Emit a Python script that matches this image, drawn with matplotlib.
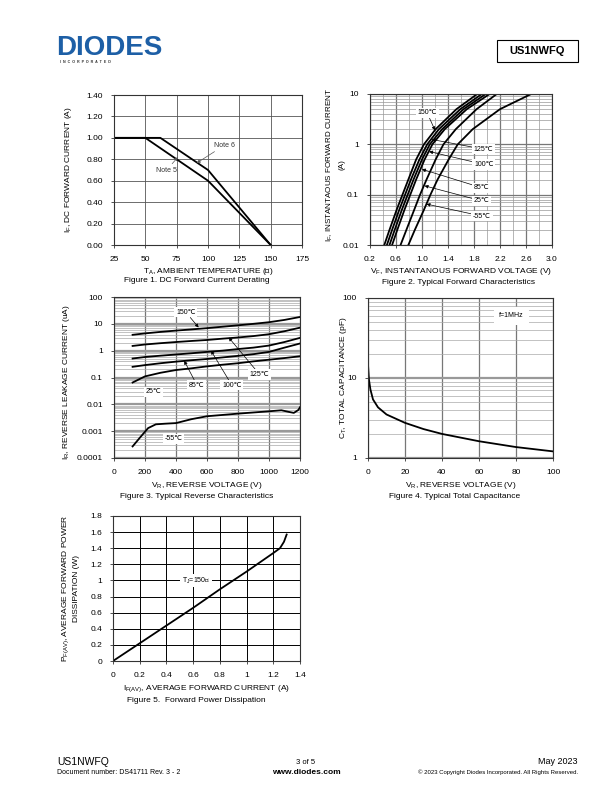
import matplotlib
matplotlib.use("Agg")
import matplotlib.pyplot as plt
from matplotlib.patches import Rectangle

plt.rcParams['font.family'] = ['Liberation Sans', 'DejaVu Sans']
plt.rcParams['mathtext.default'] = 'regular'
plt.rcParams['font.size'] = 6

# ---- data: Figure 1, DC forward current derating
temp_note5 = [25, 50, 100, 150]
if_note5 = [1.0, 1.0, 0.6, 0.0]
temp_note6 = [25, 62, 100, 150]
if_note6 = [1.0, 1.0, 0.7, 0.0]

# ---- data: Figure 2, forward characteristics (V at given I)
fwd_current = [0.01, 0.02, 0.05, 0.1, 0.2, 0.5, 1, 2, 5, 10]
vf_150 = [0.42, 0.50, 0.61, 0.70, 0.79, 0.91, 1.03, 1.21, 1.53, 1.85]
vf_125 = [0.46, 0.54, 0.65, 0.74, 0.83, 0.96, 1.08, 1.26, 1.59, 1.92]
vf_100 = [0.50, 0.58, 0.69, 0.78, 0.87, 1.00, 1.12, 1.31, 1.64, 1.98]
vf_85 = [0.54, 0.62, 0.73, 0.82, 0.91, 1.04, 1.16, 1.35, 1.69, 2.04]
vf_25 = [0.67, 0.76, 0.88, 0.97, 1.07, 1.21, 1.33, 1.52, 1.84, 2.15]
vf_m55 = [0.79, 0.89, 1.03, 1.13, 1.24, 1.41, 1.55, 1.78, 2.20, 2.68]

# ---- data: Figure 3, reverse leakage (uA)
vr = [120, 200, 300, 400, 500, 600, 700, 800, 900, 1000, 1100, 1200]
ir_150 = [3.9, 4.4, 5.0, 5.6, 6.2, 6.9, 7.8, 8.8, 10.0, 11.5, 14.0, 18.0]
ir_125 = [1.5, 1.7, 1.9, 2.1, 2.3, 2.5, 2.8, 3.1, 3.5, 4.1, 5.3, 7.2]
ir_100 = [0.51, 0.58, 0.65, 0.72, 0.80, 0.90, 1.0, 1.15, 1.3, 1.55, 2.1, 3.0]
ir_85 = [0.25, 0.29, 0.34, 0.39, 0.44, 0.49, 0.56, 0.64, 0.74, 0.90, 1.3, 1.85]
ir_25 = [0.065, 0.11, 0.15, 0.19, 0.22, 0.26, 0.30, 0.34, 0.40, 0.46, 0.53, 0.62]
vr_m55 = [120, 170, 220, 270, 330, 400, 500, 600, 800, 1000, 1080, 1130, 1160, 1190, 1200]
ir_m55 = [0.00027, 0.0006, 0.0013, 0.0018, 0.0019, 0.002, 0.0028, 0.0036, 0.0045,
          0.0055, 0.006, 0.0052, 0.0048, 0.0062, 0.0078]

# ---- data: Figure 4, total capacitance
vr_cap = [0, 0.5, 1.3, 2.7, 5.4, 10, 20, 30, 40, 60, 80, 100]
cap_pf = [14.8, 9.6, 7.2, 5.4, 4.3, 3.5, 2.75, 2.3, 2.0, 1.62, 1.37, 1.21]

# ---- data: Figure 5, forward power dissipation
if_av = [0, 0.2, 0.4, 0.6, 0.8, 1.0, 1.2, 1.25, 1.28, 1.30]
pf_av = [0, 0.22, 0.44, 0.66, 0.89, 1.11, 1.34, 1.40, 1.48, 1.57]

W, H = 612, 792
fig = plt.figure(figsize=(W / 100, H / 100), dpi=100)


def box(x0, y0, x1, y1):
    # pixel box (top-left origin) -> figure fraction rect
    return [x0 / W, 1 - y1 / H, (x1 - x0) / W, (y1 - y0) / H]


def style(ax):
    for s in ax.spines.values():
        s.set_color('#333333')
        s.set_linewidth(0.8)
    ax.tick_params(length=2, width=0.6, labelsize=6, pad=6, color='#333333')


lbl_box = dict(boxstyle='square,pad=0.25', fc='white', ec='none')
arrow = dict(arrowstyle='-|>', color='black', lw=0.5, mutation_scale=5, shrinkA=0, shrinkB=0)

# ---------------- Figure 1
ax1 = fig.add_axes(box(114, 95, 302, 245))
ax1.plot(temp_note5, if_note5, color='black', lw=1.3)
ax1.plot(temp_note6, if_note6, color='black', lw=1.3)
ax1.set_xlim(25, 175)
ax1.set_ylim(0, 1.4)
ax1.set_xticks(range(25, 176, 25))
ax1.set_yticks([i * 0.2 for i in range(8)])
ax1.set_yticklabels(['%.2f' % (i * 0.2) for i in range(8)])
ax1.grid(True, color='#555555', lw=0.6)
style(ax1)
ax1.annotate('Note 6', xy=(91, 0.765), xytext=(113, 0.93), fontsize=5, color='#333333',
             ha='center', va='center', arrowprops=dict(arrow, color='#555555'))
ax1.annotate('Note 5', xy=(76, 0.82), xytext=(67, 0.70), fontsize=5, color='#333333',
             ha='center', va='center', arrowprops=dict(arrow, color='#555555'))
ax1.set_ylabel('I$_F$, DC FORWARD CURRENT (A)', fontsize=6)
ax1.yaxis.set_label_coords(-0.213, 0.5)
ax1.set_xlabel('T$_A$, AMBIENT TEMPERATURE (℃)', fontsize=6)
ax1.xaxis.set_label_coords(0.5, -0.14)
fig.text(197 / W, 1 - 281 / H, 'Figure 1. DC Forward Current Derating', ha='center', va='center', fontsize=6)

# ---------------- Figure 2
ax2 = fig.add_axes(box(370, 94, 552, 245))
for v in [vf_150, vf_125, vf_100, vf_85, vf_25, vf_m55]:
    ax2.plot(v, fwd_current, color='black', lw=1.3)
ax2.set_yscale('log')
ax2.set_xlim(0.2, 3.0)
ax2.set_ylim(0.01, 10)
ax2.set_xticks([0.2, 0.6, 1.0, 1.4, 1.8, 2.2, 2.6, 3.0])
ax2.set_xticks([0.4, 0.8, 1.2, 1.6, 2.0, 2.4, 2.8], minor=True)
ax2.set_yticks([0.01, 0.1, 1, 10])
ax2.set_yticklabels(['0.01', '0.1', '1', '10'])
ax2.grid(True, which='major', color='#777777', lw=0.9)
ax2.grid(True, which='minor', color='#999999', lw=0.5)
style(ax2)
ax2.tick_params(which='minor', length=0)
fwd_labels = [('150℃', (1.08, 4.2), (1.20, 1.9)),
              ('125℃', (1.95, 0.8), (1.15, 1.25)),
              ('100℃', (1.95, 0.40), (1.11, 0.72)),
              ('85℃', (1.92, 0.137), (1.00, 0.32)),
              ('25℃', (1.92, 0.075), (1.04, 0.15)),
              ('-55℃', (1.92, 0.0375), (1.07, 0.065))]
for txt, pos, tip in fwd_labels:
    ax2.annotate(txt, xy=tip, xytext=pos, fontsize=5, ha='center', va='center',
                 bbox=lbl_box, arrowprops=arrow)
ax2.set_ylabel('I$_F$, INSTANTAOUS FORWARD CURRENT\n(A)', fontsize=5.8, linespacing=1.6)
ax2.yaxis.set_label_coords(-0.135, 0.53)
ax2.set_xlabel('V$_F$, INSTANTANOUS FORWARD VOLTAGE (V)', fontsize=6)
ax2.xaxis.set_label_coords(0.5, -0.14)
fig.text(458 / W, 1 - 283 / H, 'Figure 2. Typical Forward Characteristics', ha='center', va='center', fontsize=6)

# ---------------- Figure 3
ax3 = fig.add_axes(box(114, 297, 300, 458))
for i in [ir_150, ir_125, ir_100, ir_85, ir_25]:
    ax3.plot(vr, i, color='black', lw=1.3)
ax3.plot(vr_m55, ir_m55, color='black', lw=1.3)
ax3.set_yscale('log')
ax3.set_xlim(0, 1200)
ax3.set_ylim(0.0001, 100)
ax3.set_xticks(range(0, 1201, 200))
ax3.set_yticks([0.0001, 0.001, 0.01, 0.1, 1, 10, 100])
ax3.set_yticklabels(['0.0001', '0.001', '0.01', '0.1', '1', '10', '100'])
ax3.grid(True, which='major', axis='x', color='#777777', lw=0.9)
ax3.grid(True, which='major', axis='y', color='#999999', lw=1.6)
ax3.grid(True, which='minor', axis='y', color='#aaaaaa', lw=0.5)
style(ax3)
ax3.tick_params(which='minor', length=0)
rev_labels = [('150℃', (464, 27), (546, 7.3)),
              ('125℃', (939, 0.13), (740, 3.1)),
              ('100℃', (760, 0.052), (626, 1.0)),
              ('85℃', (535, 0.052), (453, 0.42))]
for txt, pos, tip in rev_labels:
    ax3.annotate(txt, xy=tip, xytext=pos, fontsize=5, ha='center', va='center',
                 bbox=lbl_box, arrowprops=arrow)
ax3.text(255, 0.029, '25℃', fontsize=5, ha='center', va='center', bbox=lbl_box)
ax3.text(384, 0.00052, '-55℃', fontsize=5, ha='center', va='center', bbox=lbl_box)
ax3.set_ylabel('I$_R$, REVERSE LEAKAGE CURRENT (uA)', fontsize=6)
ax3.yaxis.set_label_coords(-0.228, 0.47)
ax3.set_xlabel('V$_R$, REVERSE VOLTAGE (V)', fontsize=6)
ax3.xaxis.set_label_coords(0.5, -0.137)
fig.text(197 / W, 1 - 497 / H, 'Figure 3. Typical Reverse Characteristics', ha='center', va='center', fontsize=6)

# ---------------- Figure 4
ax4 = fig.add_axes(box(368, 298, 553, 458))
ax4.plot(vr_cap, cap_pf, color='black', lw=1.3)
ax4.set_yscale('log')
ax4.set_xlim(0, 100)
ax4.set_ylim(1, 100)
ax4.set_xticks(range(0, 101, 20))
ax4.set_yticks([1, 10, 100])
ax4.set_yticklabels(['1', '10', '100'])
ax4.grid(True, which='major', axis='x', color='#777777', lw=0.9)
ax4.grid(True, which='major', axis='y', color='#999999', lw=1.6)
ax4.grid(True, which='minor', axis='y', color='#aaaaaa', lw=0.5)
style(ax4)
ax4.tick_params(which='minor', length=0)
ax4.text(77.5, 60, 'f=1MHz', fontsize=5, ha='center', va='center',
         bbox=dict(boxstyle='square,pad=0.8', fc='white', ec='none'))
ax4.set_ylabel('C$_T$, TOTAL CAPACITANCE (pF)', fontsize=6)
ax4.yaxis.set_label_coords(-0.105, 0.5)
ax4.set_xlabel('V$_R$, REVERSE VOLTAGE (V)', fontsize=6)
ax4.xaxis.set_label_coords(0.5, -0.137)
fig.text(455 / W, 1 - 496 / H, 'Figure 4. Typical Total Capacitance', ha='center', va='center', fontsize=6)

# ---------------- Figure 5
ax5 = fig.add_axes(box(113, 516, 300, 661))
ax5.plot(if_av, pf_av, color='black', lw=1.3)
ax5.set_xlim(0, 1.4)
ax5.set_ylim(0, 1.8)
ax5.set_xticks([0, 0.2, 0.4, 0.6, 0.8, 1, 1.2, 1.4])
ax5.set_xticklabels(['0', '0.2', '0.4', '0.6', '0.8', '1', '1.2', '1.4'])
ax5.set_yticks([0, 0.2, 0.4, 0.6, 0.8, 1, 1.2, 1.4, 1.6, 1.8])
ax5.set_yticklabels(['0', '0.2', '0.4', '0.6', '0.8', '1', '1.2', '1.4', '1.6', '1.8'])
ax5.grid(True, color='black', lw=0.7)
style(ax5)
ax5.text(0.62, 1.0, 'T$_J$=150℃', fontsize=5, ha='center', va='center', bbox=lbl_box)
ax5.set_ylabel('P$_{F(AV)}$, AVERAGE FORWARD POWER\nDISSIPATION (W)', fontsize=6, linespacing=1.5)
ax5.yaxis.set_label_coords(-0.175, 0.5)
ax5.set_xlabel('I$_{F(AV)}$, AVERAGE FORWARD CURRENT (A)', fontsize=6)
ax5.xaxis.set_label_coords(0.5, -0.15)
fig.text(196 / W, 1 - 700 / H, 'Figure 5.  Forward Power Dissipation', ha='center', va='center', fontsize=6)

# ---------------- header
fig.text(56 / W, 1 - 48 / H, 'DIODES', fontsize=20, fontweight='bold', color='#1d5fa6',
         ha='left', va='center')
fig.text(60 / W, 1 - 62 / H, 'I  N  C  O  R  P  O  R  A  T  E  D', fontsize=2.6,
         color='#333333', ha='left', va='center', fontweight='bold')
fig.patches.append(Rectangle((497 / W, 1 - 62 / H), 81 / W, 22 / H, transform=fig.transFigure,
                             fill=False, ec='black', lw=0.8))
fig.text(537 / W, 1 - 51 / H, 'US1NWFQ', fontsize=8, fontweight='bold', ha='center', va='center')

# ---------------- footer
fig.text(57 / W, 1 - 762 / H, 'US1NWFQ', fontsize=7.5, ha='left', va='center')
fig.text(57 / W, 1 - 773 / H, 'Document number: DS41711 Rev. 3 - 2', fontsize=5, ha='left', va='center')
fig.text(306 / W, 1 - 762 / H, '3 of 5', fontsize=5.5, ha='center', va='center')
fig.text(306 / W, 1 - 772 / H, 'www.diodes.com', fontsize=6, fontweight='bold', ha='center', va='center')
fig.text(578 / W, 1 - 762 / H, 'May 2023', fontsize=6.5, ha='right', va='center')
fig.text(578 / W, 1 - 772 / H, '© 2023 Copyright Diodes Incorporated. All Rights Reserved.',
         fontsize=4.3, ha='right', va='center')

fig.savefig('out.png', dpi=100)
